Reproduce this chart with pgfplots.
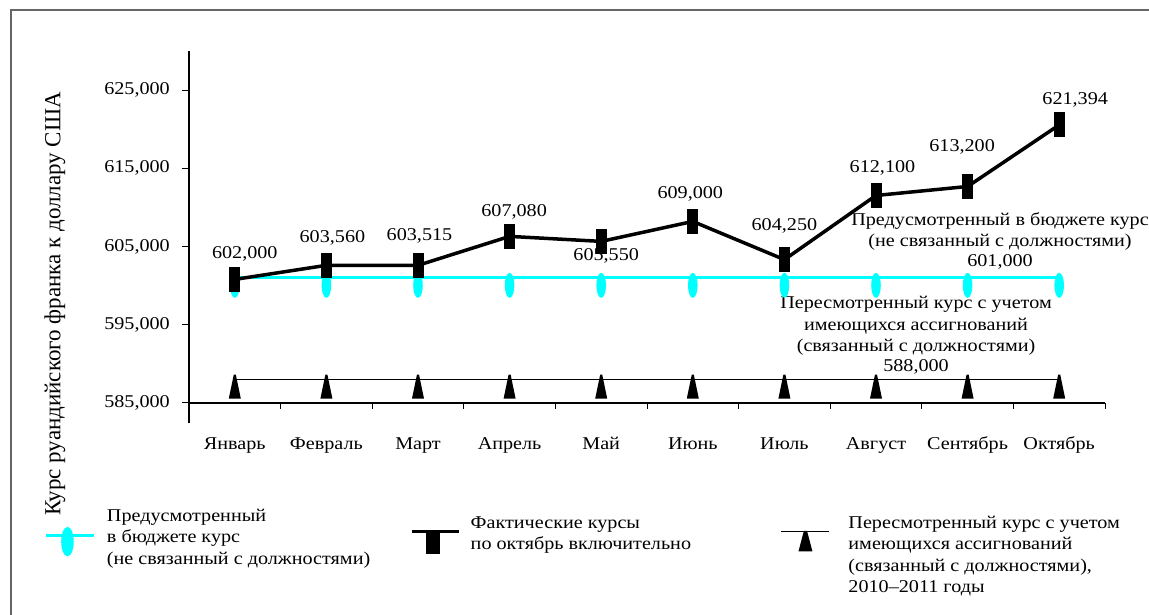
\documentclass[border=0pt]{standalone}
\usepackage{fontspec}
\setmainfont{Liberation Serif}[FakeStretch=1.12]
\newfontfamily\labelfont{Liberation Serif}
\usepackage{pgfplots}
\pgfplotsset{compat=1.18}
\usepackage{pgfplotstable}

\definecolor{budgetcyan}{RGB}{0,255,255}

% marks as drawn in the reference
\pgfdeclareplotmark{vbar}{%
  \pgfpathrectangle{\pgfpoint{-5.5pt}{-12.5pt}}{\pgfpoint{11pt}{25pt}}\pgfusepathqfill}
\pgfdeclareplotmark{vell}{%
  \pgfpathellipse{\pgfpoint{0pt}{-7.5pt}}{\pgfpoint{4.8pt}{0pt}}{\pgfpoint{0pt}{12.5pt}}\pgfusepathqfill}
\pgfdeclareplotmark{tri}{%
  \pgfpathmoveto{\pgfpoint{-1pt}{5pt}}\pgfpathlineto{\pgfpoint{1pt}{5pt}}%
  \pgfpathlineto{\pgfpoint{6pt}{-19pt}}\pgfpathlineto{\pgfpoint{-6pt}{-19pt}}%
  \pgfpathclose\pgfusepathqfill}

\pgfplotstableread{
x y dx dy label
0 600800 10 26 602,000
1 602600 6 27 603,560
2 602600 1.5 29 603,515
3 606300 4.5 24 607,080
4 605660 5 -15 605,550
5 608210 -2.5 28 609,000
6 603330 0 34 604,250
7 611530 6.5 28 612,100
8 612680 -5.5 40 613,200
9 620550 16 25 621,394
}\actual

\pgfplotstableread{
x y
0 601000
1 601000
2 601000
3 601000
4 601000
5 601000
6 601000
7 601000
8 601000
9 601000
}\budget

\pgfplotstableread{
x y
0 588000
1 588000
2 588000
3 588000
4 588000
5 588000
6 588000
7 588000
8 588000
9 588000
}\revised

\begin{document}
\begin{tikzpicture}
\begin{axis}[
    at={(189pt,212pt)}, anchor=south west,
    scale only axis, width=916pt, height=352pt,
    xmin=-0.5, xmax=9.5, ymin=585000, ymax=630000,
    scaled y ticks=false,
    axis x line*=bottom, axis y line*=left,
    axis line style={line width=1.2pt},
    clip=false,
    font=\fontsize{18}{21.5}\selectfont,
    ticklabel style={font=\fontsize{18}{21.5}\selectfont},
    tick align=outside,
    xtick={0,...,9},
    xticklabels={Январь,Февраль,Март,Апрель,Май,Июнь,Июль,Август,Сентябрь,Октябрь},
    major x tick style={draw=none},
    minor xtick={-0.5,0.5,...,9.5},
    minor tick length=6pt,
    minor x tick style={line width=1pt, black},
    xticklabel style={anchor=base, yshift=-40pt},
    ytick={585000,595000,605000,615000,625000},
    yticklabels={{585,000},{595,000},{605,000},{615,000},{625,000}},
    major tick length=7pt,
    major y tick style={line width=1pt, black},
    yticklabel style={anchor=east, inner sep=0pt, xshift=-12pt},
    legend columns=3,
    legend style={draw=none, fill=none, at={(-0.158,-0.30)}, anchor=north west,
        inner sep=0pt, column sep=0pt,
        nodes={inner sep=0pt, anchor=base west},
        font=\fontsize{18}{21.5}\selectfont},
]
\addplot[budgetcyan, line width=3pt, mark=vell,
    legend image code/.code={
        \draw[budgetcyan, line width=3pt] (0pt,-7.5pt) -- (48pt,-7.5pt);
        \fill[budgetcyan] (21.5pt,-13.5pt) ellipse [x radius=4.8pt, y radius=13pt];
        \path[draw=none, fill=none] (0pt,0pt) -- (61pt,0pt);
    }] table[x=x, y=y] {\budget};
\addlegendentry{\raisebox{7pt}{\parbox[t]{303pt}{Предусмотренный\\в бюджете курс\\(не связанный с должностями)}}}

\addplot[black, line width=3.5pt, mark=vbar,
    point meta=explicit symbolic,
    nodes near coords,
    visualization depends on={\thisrow{dx} \as \ldx},
    visualization depends on={\thisrow{dy} \as \ldy},
    every node near coord/.append style={anchor=center, xshift=\ldx pt, yshift=\ldy pt,
        font=\fontsize{18}{21.5}\selectfont, inner sep=0pt},
    legend image code/.code={
        \draw[black, line width=3.5pt] (0pt,-3.5pt) -- (47pt,-3.5pt);
        \fill[black] (16pt,-3.5pt) rectangle (27pt,-24.5pt);
        \path[draw=none, fill=none] (0pt,0pt) -- (59pt,0pt);
    }] table[x=x, y=y, meta=label] {\actual};
\addlegendentry{\parbox[t]{310pt}{Фактические курсы\\по октябрь включительно}}

\addplot[black, line width=1.5pt, mark=tri,
    legend image code/.code={
        \draw[black, line width=1.5pt] (0pt,-3.5pt) -- (48pt,-3.5pt);
        \fill[black] (23pt,-3.5pt) -- (25pt,-3.5pt) -- (30pt,-22.5pt) -- (18pt,-22.5pt) -- cycle;
        \path[draw=none, fill=none] (0pt,0pt) -- (67pt,0pt);
    }] table[x=x, y=y] {\revised};
\addlegendentry{\parbox[t]{295pt}{Пересмотренный курс с учетом\\имеющихся ассигнований\\(связанный с должностями),\\2010–2011 годы}}

\draw[line width=1.2pt] (rel axis cs:0,0) -- ++(0pt,-20pt);

\node[align=center, font=\fontsize{18}{21.5}\selectfont] at (axis cs:8.354,606939)
    {Предусмотренный в бюджете курс\\(не связанный с должностями)};
\node[font=\fontsize{18}{21.5}\selectfont] at (axis cs:8.354,602985) {601,000};
\node[align=center, font=\fontsize{18}{21.5}\selectfont] at (axis cs:7.437,594821)
    {Пересмотренный курс с учетом\\имеющихся ассигнований\\(связанный с должностями)};
\node[font=\fontsize{18}{21.5}\selectfont] at (axis cs:7.437,589592) {588,000};
\end{axis}

\node[rotate=90, font=\labelfont\fontsize{23}{27}\selectfont] at (55pt,311pt)
    {Курс руандийского франка к доллару США};
\draw[black!60, line width=1.3pt] (11pt,0pt) -- (11pt,605pt) -- (1149pt,605pt);

\pgfresetboundingbox
\useasboundingbox (0pt,0pt) rectangle (1149pt,615pt);
\end{tikzpicture}
\end{document}
